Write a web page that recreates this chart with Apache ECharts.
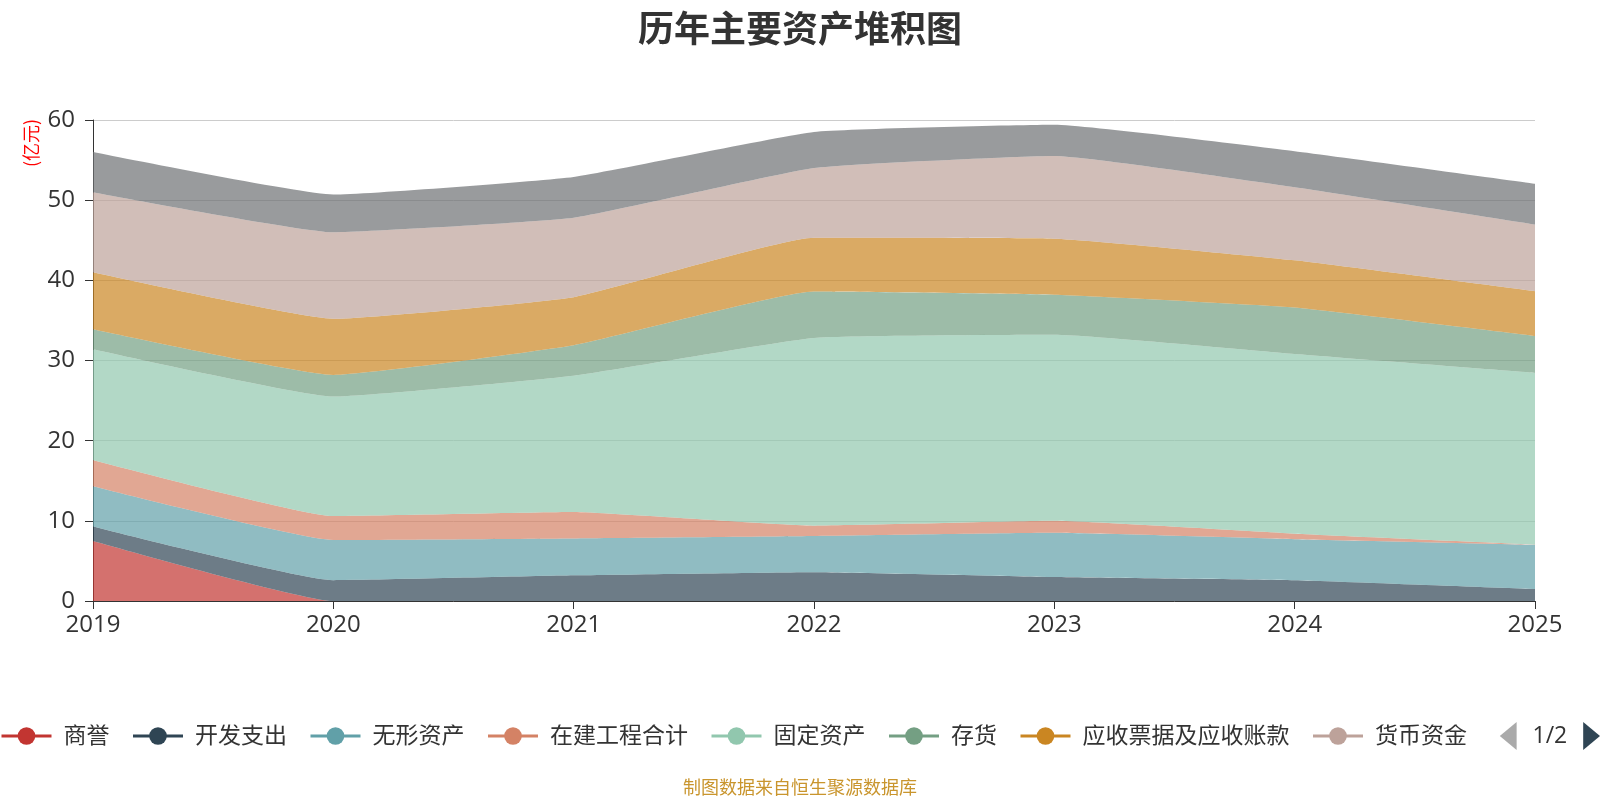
<!DOCTYPE html>
<html>
<head>
<meta charset="utf-8">
<script src="https://cdn.jsdelivr.net/npm/echarts@6/dist/echarts.min.js"></script>
<style>
  html, body { margin: 0; padding: 0; background: #fff; }
  #chart { width: 1600px; height: 800px; }
</style>
</head>
<body>
<div id="chart"></div>
<script>
// 年份
var years = ["2019", "2020", "2021", "2022", "2023", "2024", "2025"];
var yTicks = [0, 10, 20, 30, 40, 50, 60];

// 各项资产（亿元）
var goodwill = [7.5, 0, 0, 0, 0, 0, 0];                 // 商誉
var devCost = [1.8, 2.6, 3.2, 3.6, 3.0, 2.6, 1.5];      // 开发支出
var intangible = [5.0, 5.0, 4.6, 4.5, 5.5, 5.1, 5.5];   // 无形资产
var construction = [3.3, 3.0, 3.3, 1.3, 1.5, 0.7, 0.05]; // 在建工程合计
var fixedAssets = [13.8, 14.9, 17.0, 23.4, 23.2, 22.4, 21.4]; // 固定资产
var inventory = [2.5, 2.7, 3.8, 5.8, 5.0, 5.8, 4.6];    // 存货
var receivables = [7.1, 7.0, 6.0, 6.7, 7.0, 5.9, 5.6];  // 应收票据及应收账款
var cash = [10.0, 10.8, 9.9, 8.7, 10.3, 9.1, 8.3];      // 货币资金
var others = [5.0, 4.7, 5.1, 4.5, 3.9, 4.5, 5.1];       // 第二页图例（图中不可见）

var names = ["商誉", "开发支出", "无形资产", "在建工程合计", "固定资产", "存货", "应收票据及应收账款", "货币资金", "长期股权投资"];
var colors = ["#c23531", "#2f4554", "#61a0a8", "#d48265", "#91c7ae", "#749f83", "#ca8622", "#bda29a", "#6e7074"];
var values = [goodwill, devCost, intangible, construction, fixedAssets, inventory, receivables, cash, others];

var fontFam = "'Open Sans', 'Noto Sans CJK SC', sans-serif";

var series = names.map(function (n, i) {
  return {
    name: n,
    type: "line",
    stack: "total",
    smooth: 0.12,
    showSymbol: false,
    symbol: "circle",
    lineStyle: { width: 0 },
    areaStyle: { opacity: 0.7 },
    data: values[i]
  };
});

var chart = echarts.init(document.getElementById("chart"));
chart.setOption({
  color: colors,
  animation: false,
  textStyle: { fontFamily: fontFam },
  title: {
    text: "历年主要资产堆积图",
    left: "center",
    top: 5,
    textStyle: { fontSize: 36, fontWeight: "bold", color: "#333", fontFamily: "'Noto Sans CJK SC', sans-serif" }
  },
  graphic: [
    {
      type: "text",
      x: 31,
      y: 143,
      rotation: Math.PI / 2,
      style: { text: "(亿元)", fill: "#ff0000", font: "18px 'Noto Sans CJK SC', sans-serif", align: "center", verticalAlign: "middle" }
    },
    {
      type: "text",
      left: "center",
      top: 778,
      style: { text: "制图数据来自恒生聚源数据库", fill: "#c9952d", font: "18px 'Noto Sans CJK SC', sans-serif" }
    }
  ],
  legend: {
    type: "scroll",
    left: 0,
    right: 0,
    top: 717,
    padding: [5, 0, 5, 0],
    itemWidth: 50,
    itemHeight: 22,
    itemGap: 22,
    lineStyle: { width: 3 },
    textStyle: { fontSize: 23, color: "#333", padding: [0, 0, 0, 7] },
    pageIconColor: "#2f4554",
    pageIconInactiveColor: "#aaa",
    pageIconSize: [17, 28],
    pageTextStyle: { fontSize: 23, color: "#333" },
    data: names
  },
  grid: { left: 93, right: 65, top: 120, bottom: 199 },
  xAxis: {
    type: "category",
    boundaryGap: false,
    data: years,
    axisLine: { lineStyle: { color: "#333" } },
    axisTick: { show: true, length: 8 },
    axisLabel: { fontSize: 24, color: "#333", margin: 12 }
  },
  yAxis: {
    type: "value",
    min: yTicks[0],
    max: yTicks[yTicks.length - 1],
    interval: 10,
    axisLine: { show: true, lineStyle: { color: "#333" } },
    axisTick: { show: true, length: 8 },
    axisLabel: { fontSize: 24, color: "#333", margin: 18 },
    splitLine: { lineStyle: { color: "#ccc" } }
  },
  series: series
});
</script>
</body>
</html>
